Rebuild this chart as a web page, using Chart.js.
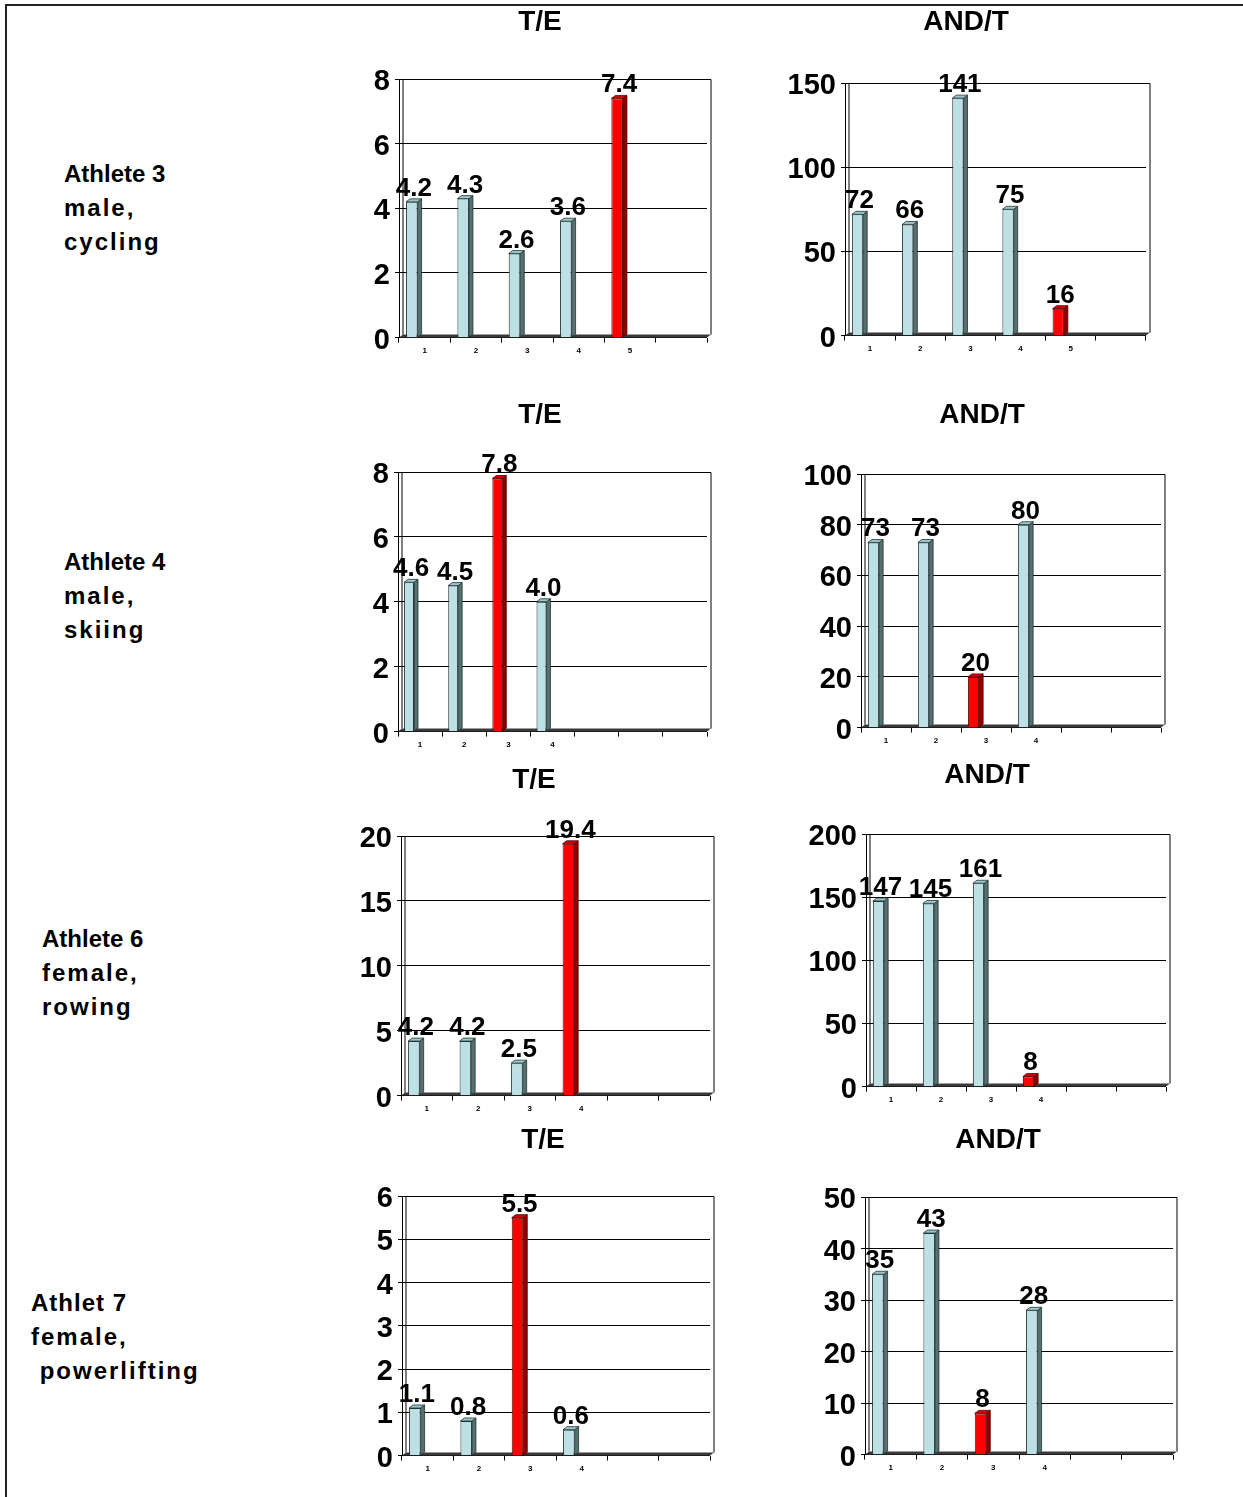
<!DOCTYPE html>
<html>
<head>
<meta charset="utf-8">
<script src="https://cdn.jsdelivr.net/npm/chart.js@4.4.0/dist/chart.umd.min.js"></script>
<style>
body{margin:0;background:#fff;font-family:"Liberation Sans",Arial,sans-serif;}
#page{position:relative;width:1243px;height:1497px;overflow:hidden;}
#frame{position:absolute;left:5px;top:4px;width:1240px;height:1500px;border-left:2px solid #222;border-top:2px solid #222;}
.athlete{position:absolute;font-weight:bold;font-size:24px;line-height:34px;white-space:pre;color:#000;}
.athlete .w{letter-spacing:2px;}
.box{position:absolute;}
</style>
</head>
<body>
<div id="page">
<div id="frame"></div>
<div class="athlete" style="left:64px;top:157px">Athlete 3
<span class="w">male,</span>
<span class="w">cycling</span></div>
<div class="athlete" style="left:64px;top:545px">Athlete 4
<span class="w">male,</span>
<span class="w">skiing</span></div>
<div class="athlete" style="left:42px;top:922px">Athlete 6
<span class="w">female,</span>
<span class="w">rowing</span></div>
<div class="athlete" style="left:31px;top:1286px"><span style="letter-spacing:1px">Athlet 7</span>
<span class="w">female,</span>
<span class="w"> powerlifting</span></div>
</div>
<script>
// category labels (empty slots are part of the original axes)
var cats5 = ['1','2','3','4','5',''];
var cats4 = ['1','2','3','4','',''];
var cats4wide = ['1','2','3','4','','',''];

// values
var teA3 = [4.2, 4.3, 2.6, 3.6, 7.4];
var andtA3 = [72, 66, 141, 75, 16];
var teA4 = [4.6, 4.5, 7.8, 4.0];
var andtA4 = [73, 73, 20, 80];
var teA6 = [4.2, 4.2, 2.5, 19.4];
var andtA6 = [147, 145, 161, 8];
var teA7 = [1.1, 0.8, 5.5, 0.6];
var andtA7 = [35, 43, 8, 28];

var charts = [
  {title:'T/E',   labels:cats5,     values:teA3,   red:4, max:8,   step:2,  dec:1},
  {title:'AND/T', labels:cats5,     values:andtA3, red:4, max:150, step:50, dec:0},
  {title:'T/E',   labels:cats4wide, values:teA4,   red:2, max:8,   step:2,  dec:1},
  {title:'AND/T', labels:cats4,     values:andtA4, red:2, max:100, step:20, dec:0},
  {title:'T/E',   labels:cats4,     values:teA6,   red:3, max:20,  step:5,  dec:1},
  {title:'AND/T', labels:cats4,     values:andtA6, red:3, max:200, step:50, dec:0},
  {title:'T/E',   labels:cats4,     values:teA7,   red:2, max:6,   step:1,  dec:1},
  {title:'AND/T', labels:cats4,     values:andtA7, red:2, max:50,  step:10, dec:0}
];

// plot left, plot right, plot top, plot bottom, title centre y, y-axis width
var boxes = [
  [399, 707, 79, 338, 22, 26],
  [845, 1146, 83, 336, 22, 59],
  [398, 707, 472, 732, 415, 25],
  [861, 1161, 474, 728, 415, 58],
  [401, 710, 836, 1096, 780, 43],
  [866, 1166, 834, 1087, 775, 58],
  [402, 710, 1196, 1456, 1140, 26],
  [865, 1173, 1197, 1455, 1140, 42]
];

var FONT = '"Liberation Sans", Arial, sans-serif';
var D = 4, DY = 3;

var bar3d = {
  id: 'bar3d',
  beforeDatasetsDraw(chart) {
    var a = chart.chartArea, ctx = chart.ctx;
    ctx.save();
    ctx.strokeStyle = '#000';
    ctx.lineWidth = 1;
    ctx.beginPath();
    ctx.moveTo(a.left + D, a.top + 0.5);
    ctx.lineTo(a.right + D, a.top + 0.5);
    ctx.lineTo(a.right + D, a.bottom - DY);
    ctx.moveTo(a.left + D, a.top);
    ctx.lineTo(a.left + D, a.bottom - DY);
    ctx.stroke();
    // floor
    ctx.fillStyle = '#3a3a3a';
    ctx.beginPath();
    ctx.moveTo(a.left, a.bottom);
    ctx.lineTo(a.left + D, a.bottom - DY);
    ctx.lineTo(a.right + D, a.bottom - DY);
    ctx.lineTo(a.right, a.bottom);
    ctx.closePath();
    ctx.fill();
    ctx.restore();
  },
  afterDatasetsDraw(chart) {
    var ctx = chart.ctx;
    var ds = chart.data.datasets[0];
    var meta = chart.getDatasetMeta(0);
    ctx.save();
    meta.data.forEach(function(bar, i) {
      var v = ds.data[i];
      if (v == null) return;
      var p = bar.getProps(['x', 'y', 'base', 'width'], true);
      var l = p.x - p.width / 2, r = p.x + p.width / 2;
      var hot = i === ds.red;
      ctx.strokeStyle = hot ? '#500' : '#243434';
      ctx.lineWidth = 0.8;
      ctx.fillStyle = hot ? '#8e0000' : '#566f70';
      ctx.beginPath();
      ctx.moveTo(r, p.y); ctx.lineTo(r + D, p.y - DY);
      ctx.lineTo(r + D, p.base - DY); ctx.lineTo(r, p.base);
      ctx.closePath(); ctx.fill(); ctx.stroke();
      ctx.fillStyle = hot ? '#d40000' : '#98c6ca';
      ctx.beginPath();
      ctx.moveTo(l, p.y); ctx.lineTo(l + D, p.y - DY);
      ctx.lineTo(r + D, p.y - DY); ctx.lineTo(r, p.y);
      ctx.closePath(); ctx.fill(); ctx.stroke();
      ctx.fillStyle = '#000';
      ctx.font = 'bold 26px ' + FONT;
      ctx.textAlign = 'center';
      ctx.textBaseline = 'alphabetic';
      ctx.fillText(v.toFixed(ds.dec), p.x + D / 2, p.y - DY - 3);
    });
    ctx.restore();
  }
};

function makeChart(cfg, box) {
  var plotLeft = box[0], plotRight = box[1], plotTop = box[2], plotBottom = box[3];
  var titleY = box[4], axisW = box[5];
  var padR = 8, xH = 22, titleSize = 28;
  var T = Math.round(titleY - titleSize / 2);
  var L = plotLeft - axisW;
  var W = axisW + (plotRight - plotLeft) + padR;
  var H = plotBottom - T + xH;

  var div = document.createElement('div');
  div.className = 'box';
  div.style.left = L + 'px';
  div.style.top = T + 'px';
  var cv = document.createElement('canvas');
  cv.width = W; cv.height = H;
  cv.style.width = W + 'px'; cv.style.height = H + 'px';
  div.appendChild(cv);
  document.getElementById('page').appendChild(div);

  var data = cfg.labels.map(function(_, i) { return i < cfg.values.length ? cfg.values[i] : null; });
  var colors = data.map(function(_, i) { return i === cfg.red ? '#ff0000' : '#bde0e4'; });
  var borders = data.map(function(_, i) { return i === cfg.red ? '#550000' : '#243434'; });

  new Chart(cv, {
    type: 'bar',
    data: {
      labels: cfg.labels,
      datasets: [
        {data: data, red: cfg.red, dec: cfg.dec, backgroundColor: colors, borderColor: borders,
         borderWidth: 1, barPercentage: 0.45, categoryPercentage: 1},
        {data: cfg.labels.map(function() { return null; }), barPercentage: 0.45, categoryPercentage: 1}
      ]
    },
    options: {
      responsive: false,
      animation: false,
      layout: {padding: {left: 0, right: padR, top: 0, bottom: 0}},
      plugins: {
        legend: {display: false},
        tooltip: {enabled: false},
        title: {
          display: true, text: cfg.title, color: '#000',
          font: {family: FONT, size: titleSize, weight: 'bold', lineHeight: 1},
          padding: {top: 0, bottom: plotTop - T - titleSize}
        }
      },
      scales: {
        x: {
          grid: {display: true, drawOnChartArea: false, drawTicks: true, tickLength: 5, color: '#000', offset: true},
          border: {display: false},
          ticks: {color: '#000', font: {family: FONT, size: 8, weight: 'bold'}, padding: 3, maxRotation: 0, autoSkip: false},
          afterFit: function(s) { s.height = xH; }
        },
        y: {
          min: 0, max: cfg.max,
          grid: {color: '#000', lineWidth: 1, tickLength: 4},
          border: {color: '#000', width: 1},
          ticks: {stepSize: cfg.step, color: '#000', padding: 5, labelOffset: 3,
                  font: {family: FONT, size: 29, weight: 'bold'}},
          afterFit: function(s) { s.width = axisW; }
        }
      }
    },
    plugins: [bar3d]
  });
}

charts.forEach(function(c, i) { makeChart(c, boxes[i]); });
</script>
</body>
</html>
